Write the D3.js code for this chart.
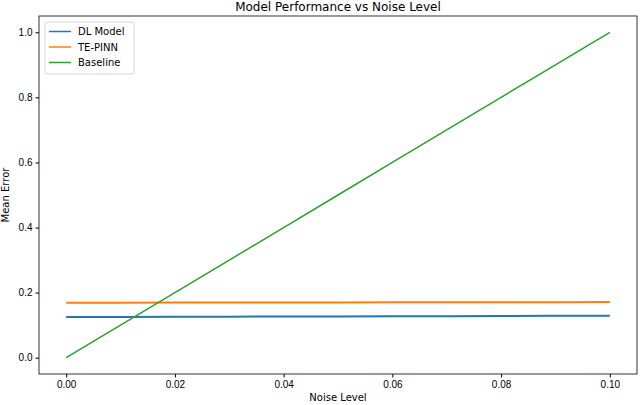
<!DOCTYPE html>
<html>
<head>
<meta charset="utf-8">
<script src="https://cdn.jsdelivr.net/npm/d3@7"></script>
<style>
  body { margin: 0; background: #fff; }
  svg { display: block; font-family: "DejaVu Sans", sans-serif; }
  .tick text { font-size: 10px; fill: #000; }
  .tick line { stroke: #000; }
</style>
</head>
<body>
<div id="chart"></div>
<script>
// noise levels and mean error per model
const noise = [0.00, 0.01, 0.02, 0.03, 0.04, 0.05, 0.06, 0.07, 0.08, 0.09, 0.10];
const dlModel = [0.125, 0.1254, 0.1258, 0.1262, 0.1266, 0.127, 0.1274, 0.1278, 0.1282, 0.1286, 0.129];
const tePinn = [0.169, 0.1692, 0.1694, 0.1696, 0.1698, 0.170, 0.1702, 0.1704, 0.1706, 0.1708, 0.171];
const baseline = [0.0, 0.1, 0.2, 0.3, 0.4, 0.5, 0.6, 0.7, 0.8, 0.9, 1.0];
const xTicks = [0.00, 0.02, 0.04, 0.06, 0.08, 0.10];
const yTicks = [0.0, 0.2, 0.4, 0.6, 0.8, 1.0];

const series = [
  { name: 'DL Model', values: dlModel, color: '#1f77b4', width: 2 },
  { name: 'TE-PINN', values: tePinn, color: '#ff7f0e', width: 2 },
  { name: 'Baseline', values: baseline, color: '#2ca02c', width: 1.5 }
];

const w = 640, h = 405;
const m = { left: 39, right: 3, top: 16, bottom: 31 };

const svg = d3.select('#chart').append('svg')
  .attr('width', w)
  .attr('height', h);

const x = d3.scaleLinear().domain([-0.005, 0.105]).range([m.left, w - m.right]);
const y = d3.scaleLinear().domain([-0.05, 1.05]).range([h - m.bottom, m.top]);

const line = vals => d3.line()
  .x((d, i) => x(noise[i]))
  .y(d => y(d))(vals);

series.forEach(s => {
  svg.append('path')
    .attr('d', line(s.values))
    .attr('fill', 'none')
    .attr('stroke', s.color)
    .attr('stroke-width', s.width);
});

// frame
svg.append('rect')
  .attr('x', m.left).attr('y', m.top)
  .attr('width', w - m.left - m.right)
  .attr('height', h - m.top - m.bottom)
  .attr('fill', 'none')
  .attr('stroke', '#000')
  .attr('stroke-width', 0.8);

const xA = d3.axisBottom(x).tickValues(xTicks).tickFormat(d3.format('.2f')).tickSize(3.5).tickPadding(3);
const yA = d3.axisLeft(y).tickValues(yTicks).tickFormat(d3.format('.1f')).tickSize(3.5).tickPadding(3);

svg.append('g')
  .attr('transform', 'translate(0,' + (h - m.bottom) + ')')
  .call(xA)
  .call(g => g.select('.domain').remove());

svg.append('g')
  .attr('transform', 'translate(' + m.left + ',0)')
  .call(yA)
  .call(g => g.select('.domain').remove());

svg.append('text')
  .text('Model Performance vs Noise Level')
  .attr('x', (m.left + w - m.right) / 2)
  .attr('y', 11)
  .attr('text-anchor', 'middle')
  .style('font-size', '12px');

svg.append('text')
  .text('Noise Level')
  .attr('x', (m.left + w - m.right) / 2)
  .attr('y', 401)
  .attr('text-anchor', 'middle')
  .style('font-size', '10px');

svg.append('text')
  .text('Mean Error')
  .attr('transform', 'translate(9,' + ((m.top + h - m.bottom) / 2) + ') rotate(-90)')
  .attr('text-anchor', 'middle')
  .style('font-size', '10px');

// legend
const lg = svg.append('g').attr('transform', 'translate(45,22)');
lg.append('rect')
  .attr('width', 89).attr('height', 52)
  .attr('rx', 2)
  .attr('fill', '#fff')
  .attr('fill-opacity', 0.8)
  .attr('stroke', '#ccc')
  .attr('stroke-width', 0.8);

series.forEach((s, i) => {
  const yy = 9.5 + i * 15.5;
  lg.append('line')
    .attr('x1', 4).attr('x2', 26)
    .attr('y1', yy).attr('y2', yy)
    .attr('stroke', s.color)
    .attr('stroke-width', 1.5);
  lg.append('text')
    .text(s.name)
    .attr('x', 33)
    .attr('y', yy + 3.5)
    .style('font-size', '10px');
});
</script>
</body>
</html>
